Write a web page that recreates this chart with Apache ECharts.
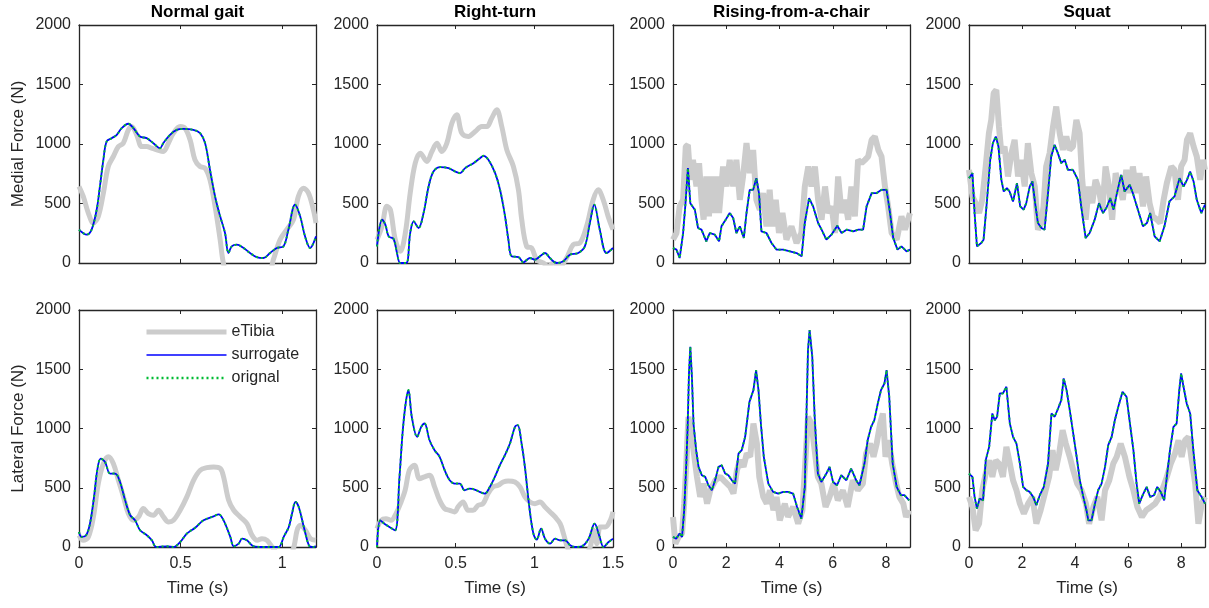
<!DOCTYPE html>
<html>
<head>
<meta charset="utf-8">
<script src="https://cdn.jsdelivr.net/npm/echarts@6.0.0/dist/echarts.min.js"></script>
<style>
html, body { margin: 0; padding: 0; background: #fff; }
#main { width: 1209px; height: 608px; }
</style>
</head>
<body>
<div id="main"></div>
<script>
// [time (s), force (N)]
const gaitMedTibia = [[0,643],[0.021,560],[0.046,420],[0.071,336],[0.095,392],[0.12,587],[0.144,811],[0.169,895],[0.194,979],[0.218,1007],[0.243,1119],[0.259,1147],[0.284,1077],[0.309,979],[0.333,979],[0.358,965],[0.383,951],[0.415,937],[0.44,1007],[0.465,1091],[0.498,1147],[0.522,1133],[0.547,1035],[0.571,867],[0.596,811],[0.621,797],[0.645,699],[0.67,476],[0.695,196],[0.711,0],[0.74,-150],[0.92,-150],[0.957,28],[0.99,196],[1.023,280],[1.056,364],[1.08,559],[1.105,629],[1.13,587],[1.154,448],[1.167,336]];
const gaitMedSur = [[0,280],[0.038,238],[0.062,280],[0.087,448],[0.103,643],[0.12,867],[0.136,1021],[0.161,1049],[0.186,1077],[0.21,1133],[0.243,1170],[0.268,1133],[0.3,1063],[0.333,1049],[0.366,1007],[0.399,965],[0.415,1007],[0.448,1077],[0.481,1119],[0.514,1127],[0.563,1119],[0.596,1091],[0.621,1007],[0.645,783],[0.67,559],[0.695,392],[0.719,252],[0.736,84],[0.752,140],[0.777,154],[0.81,126],[0.842,84],[0.875,50],[0.908,42],[0.941,84],[0.974,126],[1.007,140],[1.031,280],[1.064,490],[1.089,392],[1.113,224],[1.138,126],[1.167,224]];
const gaitMedOrg = gaitMedSur;

const turnMedTibia = [[0,196],[0.032,308],[0.063,476],[0.085,448],[0.116,196],[0.148,98],[0.18,252],[0.211,587],[0.243,839],[0.275,923],[0.317,853],[0.349,937],[0.381,1007],[0.412,937],[0.444,1007],[0.476,1175],[0.507,1245],[0.539,1091],[0.581,1063],[0.624,1105],[0.666,1147],[0.698,1147],[0.729,1217],[0.761,1287],[0.793,1147],[0.825,951],[0.867,811],[0.899,615],[0.92,364],[0.951,140],[0.983,126],[1.015,28],[1.057,0],[1.089,-28],[1.121,0],[1.163,-28],[1.205,42],[1.247,154],[1.29,168],[1.332,308],[1.374,531],[1.406,615],[1.438,531],[1.469,392],[1.5,280]];
const turnMedSur = [[0,140],[0.032,364],[0.053,322],[0.074,224],[0.106,201],[0.127,84],[0.148,0],[0.186,0],[0.211,252],[0.233,350],[0.264,294],[0.296,420],[0.328,643],[0.359,769],[0.402,806],[0.455,797],[0.497,769],[0.529,755],[0.56,797],[0.613,839],[0.655,881],[0.677,901],[0.708,867],[0.751,755],[0.782,615],[0.814,392],[0.835,196],[0.856,56],[0.899,50],[0.93,6],[0.972,42],[1.004,28],[1.036,56],[1.068,84],[1.099,42],[1.142,0],[1.184,14],[1.226,70],[1.279,84],[1.321,140],[1.353,336],[1.381,490],[1.416,280],[1.459,84],[1.5,126]];
const turnMedOrg = turnMedSur;

const chairMedTibia = [[0,196],[0.13,252],[0.25,476],[0.38,531],[0.48,979],[0.56,993],[0.65,699],[0.75,867],[0.88,643],[0.98,839],[1.07,531],[1.15,364],[1.25,727],[1.35,392],[1.44,727],[1.53,420],[1.63,727],[1.73,420],[1.88,811],[2.01,643],[2.13,867],[2.26,643],[2.38,867],[2.51,531],[2.63,727],[2.76,1007],[2.88,755],[3.01,951],[3.13,531],[3.26,448],[3.38,587],[3.51,308],[3.63,615],[3.73,308],[3.86,531],[3.98,252],[4.11,420],[4.26,196],[4.45,308],[4.64,168],[4.82,252],[4.95,643],[5.08,811],[5.2,643],[5.33,811],[5.45,531],[5.58,364],[5.71,643],[5.83,420],[5.96,476],[6.08,252],[6.2,727],[6.33,420],[6.45,531],[6.58,364],[6.7,643],[6.83,392],[6.95,867],[7.08,839],[7.21,867],[7.33,895],[7.46,1035],[7.58,1063],[7.71,951],[7.83,895],[7.96,643],[8.08,476],[8.21,252],[8.4,196],[8.58,392],[8.71,280],[8.9,420]];
const chairMedSur = [[0,126],[0.13,112],[0.25,42],[0.38,252],[0.48,531],[0.56,797],[0.65,503],[0.82,448],[0.94,294],[1.07,280],[1.25,182],[1.38,252],[1.57,238],[1.73,182],[1.82,308],[1.94,350],[2.13,420],[2.26,378],[2.38,252],[2.51,308],[2.66,210],[2.76,420],[2.88,615],[3.01,615],[3.13,713],[3.23,587],[3.32,266],[3.51,252],[3.7,168],[3.89,112],[4.14,112],[4.39,98],[4.64,84],[4.83,56],[4.95,336],[5.11,545],[5.26,476],[5.45,336],[5.58,280],[5.76,196],[5.95,238],[6.17,313],[6.33,252],[6.52,280],[6.77,266],[6.96,280],[7.14,280],[7.27,476],[7.46,587],[7.64,587],[7.83,615],[8.02,615],[8.15,420],[8.27,210],[8.43,112],[8.58,140],[8.77,98],[8.9,112]];
const chairMedOrg = chairMedSur;

const squatMedTibia = [[0,783],[0.13,559],[0.25,503],[0.38,420],[0.5,531],[0.63,811],[0.75,1091],[0.84,1203],[0.93,1427],[1.03,1455],[1.13,1147],[1.22,923],[1.34,979],[1.47,727],[1.6,923],[1.72,1035],[1.85,727],[1.97,867],[2.1,643],[2.22,1007],[2.35,755],[2.48,643],[2.6,280],[2.73,336],[2.81,476],[2.91,811],[3.04,923],[3.17,1147],[3.29,1315],[3.42,1091],[3.54,951],[3.67,1063],[3.79,951],[3.92,979],[4.05,1203],[4.17,1091],[4.27,699],[4.4,364],[4.52,643],[4.65,503],[4.77,699],[4.9,615],[5.03,448],[5.15,811],[5.28,643],[5.4,364],[5.53,755],[5.68,643],[5.8,531],[5.93,783],[6.06,587],[6.18,811],[6.31,587],[6.43,755],[6.56,476],[6.68,727],[6.81,503],[6.93,392],[7.09,364],[7.21,336],[7.34,531],[7.46,671],[7.63,811],[7.75,783],[7.88,531],[8.0,811],[8.13,867],[8.22,1035],[8.34,1091],[8.47,979],[8.59,895],[8.72,699],[8.82,867],[8.9,783]];
const squatMedSur = [[0,713],[0.13,755],[0.21,420],[0.3,140],[0.46,168],[0.55,196],[0.68,531],[0.8,867],[0.9,1007],[1.01,1063],[1.11,979],[1.22,699],[1.31,601],[1.43,629],[1.53,601],[1.66,517],[1.81,671],[1.93,476],[2.06,448],[2.16,503],[2.29,643],[2.39,685],[2.51,476],[2.6,336],[2.73,294],[2.85,280],[2.98,587],[3.1,895],[3.23,993],[3.35,923],[3.48,839],[3.61,867],[3.73,783],[3.92,783],[4.11,699],[4.23,476],[4.4,210],[4.55,252],[4.74,364],[4.9,503],[5.05,420],[5.18,462],[5.33,545],[5.45,448],[5.58,587],[5.74,741],[5.87,601],[6.06,657],[6.18,587],[6.33,476],[6.56,308],[6.71,336],[6.83,420],[7.0,224],[7.19,182],[7.37,308],[7.56,517],[7.75,559],[7.94,713],[8.09,643],[8.22,699],[8.34,769],[8.47,685],[8.59,531],[8.76,420],[8.9,490]];
const squatMedOrg = squatMedSur;

const gaitLatTibia = [[0,99],[0.021,56],[0.046,85],[0.071,254],[0.095,535],[0.12,704],[0.145,761],[0.169,704],[0.194,563],[0.219,423],[0.243,282],[0.268,225],[0.293,254],[0.317,324],[0.342,282],[0.367,268],[0.391,310],[0.416,254],[0.441,211],[0.465,225],[0.498,310],[0.531,423],[0.564,563],[0.597,648],[0.63,670],[0.663,676],[0.696,662],[0.712,592],[0.737,394],[0.762,310],[0.794,254],[0.827,197],[0.852,99],[0.877,56],[0.901,70],[0.926,56],[0.951,0],[0.984,-56],[1.041,-56],[1.058,0],[1.074,141],[1.09,183],[1.115,141],[1.14,70],[1.167,56]];
const gaitLatSur = [[0,127],[0.013,85],[0.035,99],[0.054,197],[0.074,423],[0.09,648],[0.107,746],[0.128,718],[0.153,620],[0.178,620],[0.202,549],[0.227,394],[0.252,268],[0.276,225],[0.301,141],[0.334,99],[0.359,56],[0.38,0],[0.433,6],[0.465,0],[0.498,42],[0.531,113],[0.572,163],[0.613,225],[0.663,259],[0.688,276],[0.712,225],[0.745,85],[0.762,6],[0.786,28],[0.803,70],[0.827,56],[0.86,6],[0.91,0],[0.959,0],[0.984,0],[1.008,85],[1.033,169],[1.049,282],[1.066,380],[1.082,338],[1.107,169],[1.132,14],[1.148,0],[1.167,6]];
const gaitLatOrg = gaitLatSur;

const turnLatTibia = [[0,155],[0.026,225],[0.057,239],[0.089,225],[0.121,282],[0.153,380],[0.179,479],[0.206,648],[0.238,690],[0.27,577],[0.302,592],[0.334,606],[0.366,507],[0.398,394],[0.43,324],[0.462,310],[0.494,296],[0.515,338],[0.547,380],[0.579,310],[0.611,310],[0.643,352],[0.674,366],[0.706,451],[0.738,507],[0.77,521],[0.802,549],[0.834,558],[0.877,549],[0.909,507],[0.94,423],[0.972,380],[1.004,366],[1.036,380],[1.068,338],[1.1,296],[1.132,254],[1.164,197],[1.185,113],[1.206,14],[1.228,-42],[1.323,-56],[1.355,0],[1.377,141],[1.398,28],[1.419,169],[1.451,169],[1.483,225],[1.5,296]];
const turnLatSur = [[0,0],[0.021,225],[0.047,197],[0.079,169],[0.115,141],[0.143,592],[0.164,986],[0.185,1239],[0.2,1324],[0.221,1099],[0.255,930],[0.281,1014],[0.302,1042],[0.334,901],[0.366,817],[0.398,761],[0.43,648],[0.462,563],[0.494,535],[0.526,535],[0.557,479],[0.589,493],[0.621,485],[0.653,465],[0.685,451],[0.717,507],[0.749,592],[0.781,690],[0.813,775],[0.845,873],[0.877,1014],[0.894,1028],[0.919,873],[0.94,676],[0.968,338],[0.994,113],[1.015,62],[1.043,155],[1.068,70],[1.1,28],[1.132,70],[1.164,56],[1.196,56],[1.228,14],[1.26,0],[1.302,6],[1.345,70],[1.383,197],[1.415,85],[1.44,0],[1.472,42],[1.5,70]];
const turnLatOrg = turnLatSur;

const chairLatTibia = [[0,254],[0.09,28],[0.21,85],[0.34,113],[0.42,366],[0.5,704],[0.58,1099],[0.67,986],[0.77,817],[0.9,592],[1.02,423],[1.15,535],[1.28,366],[1.4,479],[1.59,563],[1.78,592],[1.96,549],[2.15,507],[2.27,451],[2.4,648],[2.52,732],[2.65,676],[2.77,789],[2.9,761],[3.02,1042],[3.15,873],[3.24,592],[3.39,423],[3.52,366],[3.64,479],[3.77,310],[3.89,423],[4.01,225],[4.2,366],[4.32,254],[4.51,338],[4.7,197],[4.86,310],[4.98,761],[5.07,1099],[5.2,1042],[5.32,817],[5.44,592],[5.57,535],[5.73,338],[5.88,423],[6.03,535],[6.19,394],[6.38,479],[6.56,338],[6.75,563],[6.94,479],[7.13,535],[7.25,789],[7.4,873],[7.53,761],[7.65,873],[7.78,1042],[7.88,1127],[7.98,761],[8.1,901],[8.23,704],[8.38,535],[8.5,423],[8.65,366],[8.75,254],[8.87,310]];
const chairLatSur = [[0,85],[0.12,70],[0.25,113],[0.34,85],[0.42,310],[0.5,704],[0.55,1014],[0.6,1465],[0.65,1690],[0.71,1437],[0.77,1042],[0.87,817],[0.96,676],[1.08,606],[1.21,592],[1.33,521],[1.46,479],[1.58,563],[1.71,676],[1.83,690],[1.96,620],[2.08,606],[2.21,563],[2.33,535],[2.46,789],[2.58,817],[2.71,930],[2.87,1225],[3.02,1324],[3.12,1493],[3.21,1324],[3.3,1042],[3.41,761],[3.58,535],[3.76,465],[3.95,451],[4.14,465],[4.32,465],[4.51,451],[4.66,338],[4.82,239],[4.95,507],[5.01,1099],[5.07,1662],[5.13,1831],[5.23,1606],[5.32,1099],[5.44,620],[5.57,549],[5.76,620],[5.88,676],[6.01,549],[6.16,521],[6.32,606],[6.51,563],[6.69,662],[6.88,563],[7.0,521],[7.19,704],[7.31,901],[7.44,1014],[7.56,1070],[7.69,1211],[7.81,1324],[7.94,1380],[8.02,1493],[8.12,1268],[8.25,704],[8.4,507],[8.56,437],[8.69,437],[8.87,394]];
const chairLatOrg = chairLatSur;

const squatLatTibia = [[0,423],[0.13,338],[0.25,141],[0.38,197],[0.5,479],[0.63,620],[0.76,732],[0.88,592],[1.01,732],[1.13,704],[1.28,592],[1.41,845],[1.54,704],[1.66,563],[1.79,479],[1.92,366],[2.07,282],[2.23,366],[2.39,423],[2.54,197],[2.7,310],[2.86,451],[3.02,592],[3.15,817],[3.27,648],[3.4,789],[3.53,986],[3.65,873],[3.8,761],[3.93,648],[4.08,535],[4.24,479],[4.41,366],[4.53,197],[4.69,338],[4.84,423],[5.0,225],[5.13,479],[5.29,563],[5.44,704],[5.57,761],[5.72,873],[5.88,761],[6.05,592],[6.2,479],[6.35,338],[6.52,254],[6.68,310],[6.86,338],[7.02,366],[7.18,423],[7.33,507],[7.46,592],[7.61,704],[7.77,789],[7.9,901],[8.02,761],[8.15,901],[8.28,930],[8.4,732],[8.53,535],[8.65,197],[8.78,366],[8.9,423]];
const squatLatSur = [[0,620],[0.13,592],[0.21,423],[0.3,324],[0.4,408],[0.53,394],[0.63,732],[0.76,845],[0.88,1127],[0.97,1070],[1.06,1099],[1.16,1296],[1.28,1296],[1.41,1352],[1.54,1042],[1.66,930],[1.79,873],[1.92,704],[2.04,507],[2.17,479],[2.29,465],[2.42,423],[2.54,352],[2.67,437],[2.82,507],[2.98,704],[3.11,1127],[3.23,1099],[3.36,1169],[3.48,1239],[3.57,1423],[3.68,1324],[3.8,1155],[3.93,958],[4.06,761],[4.18,563],[4.31,423],[4.43,310],[4.5,225],[4.62,225],[4.75,366],[4.87,479],[5.0,535],[5.13,676],[5.25,859],[5.38,930],[5.5,1070],[5.63,1183],[5.79,1310],[5.94,1268],[6.07,1042],[6.2,817],[6.32,535],[6.42,366],[6.55,437],[6.7,507],[6.83,423],[6.98,437],[7.1,507],[7.23,465],[7.36,394],[7.46,592],[7.58,817],[7.71,1014],[7.83,1042],[7.93,1324],[8.0,1465],[8.09,1352],[8.21,1211],[8.34,1127],[8.46,817],[8.61,479],[8.77,423],[8.9,366]];
const squatLatOrg = squatLatSur;

const titles = ['Normal gait', 'Right-turn', 'Rising-from-a-chair', 'Squat'];
const rowNames = ['Medial Force (N)', 'Lateral Force (N)'];
const xMaxes = [1.167, 1.5, 8.9, 8.9];
const xSteps = [0.5, 0.5, 2, 2];
const yTicks = [0, 500, 1000, 1500, 2000];

const panels = [
	[gaitMedTibia, gaitMedSur, gaitMedOrg],
	[turnMedTibia, turnMedSur, turnMedOrg],
	[chairMedTibia, chairMedSur, chairMedOrg],
	[squatMedTibia, squatMedSur, squatMedOrg],
	[gaitLatTibia, gaitLatSur, gaitLatOrg],
	[turnLatTibia, turnLatSur, turnLatOrg],
	[chairLatTibia, chairLatSur, chairLatOrg],
	[squatLatTibia, squatLatSur, squatLatOrg]
];

var colLeft = [79, 377, 673, 969];
var colWidth = [237, 236, 237, 236];
var rowTop = [25, 310];
var rowHeight = [238, 237];

var font = '"Liberation Sans", Arial, Helvetica, sans-serif';
var ink = '#262626';

var dom = document.getElementById('main');
var myChart = echarts.init(dom, null, { renderer: 'canvas' });

var grid = [], xAxis = [], yAxis = [], series = [], title = [];

panels.forEach(function (p, i) {
	var row = Math.floor(i / 4), col = i % 4;
	var smooth = (col < 2) ? 0.35 : false;
	grid.push({
		left: colLeft[col],
		top: rowTop[row],
		width: colWidth[col],
		height: rowHeight[row],
		outerBoundsMode: 'none',
		containLabel: false
	});
	var tick = { show: true, inside: true, length: 4, lineStyle: { color: ink, width: 1 } };
	var line = { show: true, onZero: false, lineStyle: { color: ink, width: 1.3 } };
	// bottom
	xAxis.push({
		type: 'value', gridIndex: i, position: 'bottom',
		min: 0, max: xMaxes[col], interval: xSteps[col],
		axisLine: line, axisTick: tick, splitLine: { show: false },
		axisLabel: {
			show: row === 1, margin: 9, color: ink, fontSize: 16, fontFamily: font,
			showMaxLabel: col === 1, showMinLabel: true,
			formatter: function (v) { return String(v); }
		},
		name: row === 1 ? 'Time (s)' : '',
		nameLocation: 'middle', nameGap: 33,
		nameTextStyle: { color: ink, fontSize: 17, fontFamily: font }
	});
	// top mirror
	xAxis.push({
		type: 'value', gridIndex: i, position: 'top',
		min: 0, max: xMaxes[col], interval: xSteps[col],
		axisLine: line, axisTick: tick, splitLine: { show: false },
		axisLabel: { show: false }
	});
	yAxis.push({
		type: 'value', gridIndex: i, position: 'left',
		min: yTicks[0], max: yTicks[yTicks.length - 1], interval: yTicks[1] - yTicks[0],
		axisLine: line, axisTick: tick, splitLine: { show: false },
		axisLabel: {
			margin: 8, color: ink, fontSize: 16, fontFamily: font,
			formatter: function (v) { return String(v); }
		},
		name: col === 0 ? rowNames[row] : '',
		nameLocation: 'middle', nameGap: 52,
		nameTextStyle: { color: ink, fontSize: 17, fontFamily: font }
	});
	yAxis.push({
		type: 'value', gridIndex: i, position: 'right',
		min: yTicks[0], max: yTicks[yTicks.length - 1], interval: yTicks[1] - yTicks[0],
		axisLine: line, axisTick: tick, splitLine: { show: false },
		axisLabel: { show: false }
	});
	series.push({
		name: 'eTibia', type: 'line', xAxisIndex: 2 * i, yAxisIndex: 2 * i,
		data: p[0], symbol: 'none', smooth: smooth, clip: true,
		lineStyle: { color: '#cccccc', width: col < 2 ? 5 : 6 }, itemStyle: { color: '#cccccc' }, z: 2
	});
	series.push({
		name: 'surrogate', type: 'line', xAxisIndex: 2 * i, yAxisIndex: 2 * i,
		data: p[1], symbol: 'none', smooth: smooth, clip: true,
		lineStyle: { color: '#0000ff', width: 1.8 }, itemStyle: { color: '#0000ff' }, z: 3
	});
	series.push({
		name: 'orignal', type: 'line', xAxisIndex: 2 * i, yAxisIndex: 2 * i,
		data: p[2], symbol: 'none', smooth: smooth, clip: true,
		lineStyle: { color: '#00bb33', width: 2, type: [2, 3] }, itemStyle: { color: '#00bb33' }, z: 4
	});
	if (row === 0) {
		title.push({
			text: titles[col],
			left: colLeft[col] + colWidth[col] / 2,
			top: 4,
			textAlign: 'center',
			padding: 0,
			textStyle: { color: '#000', fontSize: 17, fontWeight: 'bold', fontFamily: font }
		});
	}
});

var option = {
	animation: false,
	backgroundColor: '#ffffff',
	title: title,
	legend: {
		data: [
			{ name: 'eTibia', lineStyle: { width: 5 } },
			{ name: 'surrogate', lineStyle: { width: 1.5 } },
			{ name: 'orignal', lineStyle: { width: 2.5 } }
		],
		orient: 'vertical',
		left: 144,
		top: 324,
		padding: 0,
		itemWidth: 80,
		itemHeight: 14,
		itemGap: 7,
		selectedMode: false,
		itemStyle: { opacity: 0 },
		lineStyle: { width: 'inherit' },
		textStyle: { color: ink, fontSize: 16, fontFamily: font }
	},
	grid: grid,
	xAxis: xAxis,
	yAxis: yAxis,
	series: series
};

if (option && typeof option === 'object') {
	myChart.setOption(option);
}

window.addEventListener('resize', myChart.resize);
</script>
</body>
</html>
